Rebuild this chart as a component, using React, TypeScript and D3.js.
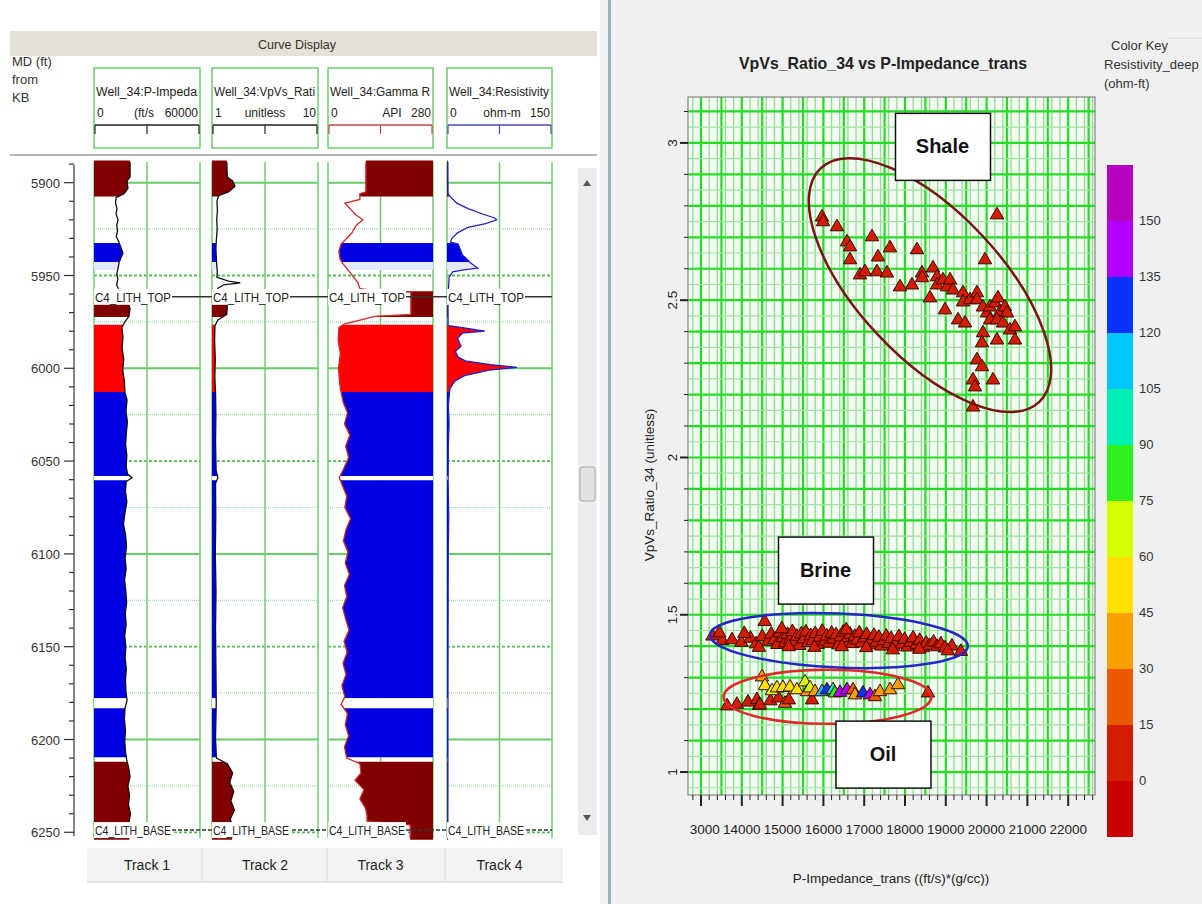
import React from "react";
import * as d3 from "d3";

const FONT = "'Liberation Sans Narrow','Liberation Sans',Arial,sans-serif";

// ---------- well log panel data ----------
const trackNames = ["Track 1", "Track 2", "Track 3", "Track 4"];
const curveNames = ["Well_34:P-Impeda", "Well_34:VpVs_Rati", "Well_34:Gamma R", "Well_34:Resistivity"];
const curveUnits = ["(ft/s", "unitless", "API", "ohm-m"];
const curveMin = [0, 1, 0, 0];
const curveMax = [60000, 10, 280, 150];
const depthLabels = [5900, 5950, 6000, 6050, 6100, 6150, 6200, 6250];

// [depth ft, value]
const pImpedance = [
  [5888, 20400], [5897, 20400], [5899, 18700], [5903, 19200], [5906, 17000], [5908, 12500], [5911, 12200],
  [5914, 13000], [5917, 12500], [5920, 13600], [5923, 12900], [5926, 13300], [5929, 12600], [5932, 14100],
  [5935, 15300], [5938, 16400], [5941, 15000], [5943, 14200], [5946, 13600], [5949, 12900], [5952, 13500],
  [5955, 12800], [5958, 14200], [5961, 13800], [5964, 19300], [5968, 20400], [5972, 19800], [5975, 17500],
  [5978, 15800], [5983, 16400], [5989, 15900], [5995, 16800], [6001, 16300], [6007, 17200], [6013, 17500],
  [6017, 18700], [6023, 18100], [6029, 18900], [6035, 18300], [6041, 17900], [6047, 18600], [6053, 18200],
  [6057, 19000], [6059, 21500], [6061, 18300], [6066, 17800], [6072, 18600], [6078, 17500], [6084, 16700],
  [6090, 17900], [6096, 18400], [6102, 17600], [6108, 18200], [6114, 17300], [6120, 18000], [6126, 18500],
  [6132, 17700], [6138, 18200], [6144, 17400], [6150, 18000], [6156, 17600], [6162, 18300], [6168, 17800],
  [6174, 18100], [6179, 18700], [6183, 17600], [6189, 17200], [6195, 17800], [6201, 17400], [6207, 17900],
  [6211, 18500], [6215, 19600], [6220, 20400], [6225, 19200], [6230, 20100], [6235, 19500], [6240, 20600],
  [6245, 19800], [6250, 20300], [6254, 20000],
];
const vpvsLog = [
  [5888, 2.25], [5897, 2.3], [5899, 2.75], [5902, 2.95], [5905, 2.4], [5907, 1.55], [5910, 1.42], [5915, 1.46],
  [5920, 1.4], [5925, 1.44], [5930, 1.38], [5935, 1.33], [5940, 1.36], [5944, 1.4], [5948, 1.45], [5951, 1.42],
  [5953, 2.4], [5954, 3.4], [5955, 2.0], [5957, 1.48], [5960, 1.45], [5963, 2.2], [5967, 2.3], [5971, 2.25],
  [5974, 1.5], [5977, 1.25], [5985, 1.22], [5995, 1.28], [6005, 1.24], [6013, 1.3], [6025, 1.33], [6040, 1.3],
  [6055, 1.35], [6059, 1.5], [6062, 1.3], [6080, 1.32], [6100, 1.28], [6120, 1.34], [6140, 1.3], [6160, 1.33],
  [6180, 1.36], [6200, 1.3], [6210, 1.38], [6213, 2.3], [6218, 2.75], [6223, 2.5], [6228, 2.85], [6233, 2.6],
  [6238, 2.9], [6243, 2.55], [6248, 2.8], [6254, 2.7],
];
const gammaRay = [
  [5888, 101], [5905, 101], [5906, 85], [5909, 85], [5911, 45], [5914, 59], [5917, 72], [5920, 93], [5923, 75],
  [5927, 64], [5931, 45], [5933, 35], [5937, 29], [5941, 32], [5943, 37], [5947, 53], [5951, 69], [5954, 80],
  [5957, 85], [5958, 117], [5959, 221], [5971, 221], [5972, 125], [5974, 85], [5976, 45], [5978, 29], [5985, 27],
  [5992, 33], [6000, 28], [6008, 31], [6013, 35], [6018, 40], [6024, 52], [6030, 44], [6036, 58], [6042, 47],
  [6048, 55], [6054, 42], [6059, 30], [6063, 38], [6069, 50], [6075, 45], [6081, 60], [6087, 48], [6093, 41],
  [6099, 53], [6105, 46], [6111, 57], [6117, 44], [6123, 50], [6129, 39], [6135, 47], [6141, 56], [6147, 43],
  [6153, 51], [6159, 40], [6165, 48], [6171, 37], [6177, 45], [6181, 35], [6186, 52], [6192, 46], [6198, 55],
  [6204, 44], [6210, 50], [6213, 85], [6218, 88], [6222, 72], [6227, 96], [6232, 85], [6237, 100], [6241, 104],
  [6244, 104], [6246, 219], [6254, 219],
];
const resistivity = [
  [5888, 1.2], [5906, 1.5], [5908, 6], [5911, 14], [5914, 30], [5917, 52], [5919, 68], [5920, 71], [5922, 55],
  [5924, 30], [5927, 15], [5930, 7], [5932, 5], [5933, 16], [5936, 19], [5939, 22], [5941, 28], [5943, 33],
  [5945, 40], [5946, 44], [5947, 24], [5948, 8], [5951, 3], [5958, 2], [5965, 1.5], [5977, 1.5], [5978, 20],
  [5980, 54], [5981, 22], [5984, 15], [5988, 20], [5991, 12], [5994, 16], [5996, 26], [5998, 62], [5999.5, 100],
  [6001, 60], [6004, 25], [6007, 11], [6011, 4], [6020, 2], [6030, 3], [6040, 2], [6060, 1.6], [6080, 2.5],
  [6100, 1.8], [6150, 1.5], [6254, 1.2],
];

// [top ft, base ft, lithology]
const lithZones = [
  [5886, 5907.5, "shale"], [5932.5, 5942.7, "brine"], [5942.7, 5947, "streak"], [5958.5, 5972.4, "shale"],
  [5976.5, 6012.8, "oil"], [6012.8, 6058, "brine"], [6058, 6060.3, "gap"], [6060.3, 6177.8, "brine"],
  [6177.8, 6183.2, "gap"], [6183.2, 6209.6, "brine"], [6212, 6256, "shale"],
];
const lithColors = { shale: "#800000", brine: "#0000e0", oil: "#ff0000", gap: "#ffffff", streak: "#e4eaff" };
const markerNames = ["C4_LITH_TOP", "C4_LITH_BASE"];
const markerDepths = [5961.5, 6248.8];

// ---------- crossplot data ----------
// [P-Impedance, VpVs]
const shalePoints = [
  [15965, 2.764], [15990, 2.749], [16333, 2.733], [16578, 2.685], [16652, 2.669], [16652, 2.628], [17191, 2.701],
  [17338, 2.637], [17632, 2.666], [18294, 2.66], [16897, 2.58], [17019, 2.59], [17313, 2.59], [17558, 2.586],
  [17877, 2.542], [18171, 2.548], [18416, 2.586], [18416, 2.571], [18686, 2.602], [18784, 2.574], [18612, 2.507],
  [18784, 2.548], [18931, 2.564], [19029, 2.542], [19103, 2.564], [19176, 2.532], [18980, 2.469], [19421, 2.523],
  [19421, 2.494], [19593, 2.501], [19764, 2.523], [19764, 2.501], [19911, 2.478], [20009, 2.459], [20083, 2.478],
  [20206, 2.491], [20279, 2.507], [20328, 2.462], [20451, 2.478], [20500, 2.459], [20083, 2.437], [20255, 2.437],
  [20402, 2.427], [20573, 2.405], [20696, 2.415], [20696, 2.373], [20255, 2.373], [19911, 2.396], [19887, 2.364],
  [19299, 2.437], [19470, 2.427], [19764, 2.31], [19887, 2.288], [19666, 2.246], [19715, 2.224], [20157, 2.246],
  [19666, 2.16], [20255, 2.771], [19960, 2.628],
];
const brinePoints = [
  [13280, 1.432], [13520, 1.418], [13760, 1.42], [13990, 1.412], [14210, 1.425], [14350, 1.407], [14500, 1.43],
  [14560, 1.478], [14640, 1.415], [14720, 1.438], [14800, 1.421], [14870, 1.405], [14930, 1.442], [15010, 1.426],
  [15060, 1.41], [15120, 1.437], [15180, 1.42], [15240, 1.446], [15300, 1.414], [15350, 1.431], [15410, 1.402],
  [15460, 1.439], [15520, 1.423], [15570, 1.445], [15630, 1.411], [15690, 1.433], [15740, 1.418], [15800, 1.44],
  [15860, 1.405], [15910, 1.428], [15970, 1.447], [16030, 1.416], [16080, 1.432], [16140, 1.409], [16200, 1.441],
  [16250, 1.422], [16310, 1.436], [16370, 1.404], [16420, 1.429], [16480, 1.444], [16540, 1.413], [16600, 1.427],
  [16650, 1.438], [16710, 1.408], [16770, 1.431], [16830, 1.419], [16880, 1.442], [16940, 1.41], [17000, 1.426],
  [17060, 1.437], [17120, 1.404], [17180, 1.421], [17240, 1.434], [17300, 1.412], [17360, 1.428], [17420, 1.4],
  [17480, 1.417], [17540, 1.432], [17600, 1.408], [17660, 1.424], [17720, 1.399], [17790, 1.415], [17850, 1.43],
  [17920, 1.406], [17990, 1.421], [18060, 1.397], [18130, 1.412], [18200, 1.426], [18280, 1.404], [18360, 1.418],
  [18440, 1.395], [18520, 1.409], [18600, 1.402], [18700, 1.413], [18790, 1.398], [18880, 1.407], [18980, 1.394],
  [19150, 1.4], [19370, 1.383], [14060, 1.44], [14420, 1.396], [15150, 1.398], [15780, 1.396], [16450, 1.398],
  [17050, 1.395], [17700, 1.388], [18350, 1.39], [19050, 1.385], [13450, 1.442], [14980, 1.455], [16560, 1.452],
];
const shaleBrineRes = 4;
// [P-Impedance, VpVs, Resistivity_deep]
const oilPoints = [
  [13640, 1.21, 8], [13880, 1.215, 5], [14150, 1.222, 10], [14370, 1.23, 6], [14420, 1.212, 12], [14446, 1.213, 3],
  [14700, 1.226, 4], [14900, 1.235, 9], [15058, 1.218, 18], [15150, 1.229, 7], [15720, 1.229, 12], [18563, 1.251, 5],
  [14495, 1.302, 32], [14569, 1.274, 52], [14740, 1.258, 65], [14862, 1.267, 55], [15008, 1.268, 50],
  [15181, 1.27, 58], [15352, 1.261, 47], [15549, 1.286, 62], [15598, 1.255, 40], [15671, 1.267, 68],
  [15794, 1.255, 38], [15965, 1.255, 112], [16088, 1.261, 125], [16235, 1.261, 100], [16284, 1.251, 82],
  [16407, 1.253, 140], [16578, 1.261, 145], [16725, 1.261, 20], [16774, 1.245, 30], [16970, 1.251, 128],
  [17142, 1.245, 138], [17264, 1.239, 25], [17387, 1.255, 33], [17632, 1.261, 37], [17828, 1.277, 40],
];
// annotation ellipses: centre in data units
const ellipseNames = ["Shale", "Brine", "Oil"];
const ellipseCentres = [[18612, 2.548], [16382, 1.418], [16100, 1.239]];
const labelCentres = [[18919, 2.989], [16051, 1.642], [17460, 1.057]];

const xTicks = [13000, 14000, 15000, 16000, 17000, 18000, 19000, 20000, 21000, 22000];
const yTicks = [1, 1.5, 2, 2.5, 3];
const keyBreaks = [0, 15, 30, 45, 60, 75, 90, 105, 120, 135, 150];
const keyColors = [
  "#c80000", "#d41c00", "#ea5800", "#f7a000", "#ffe100", "#d6ff00",
  "#2ef01c", "#00f0b4", "#00c6ff", "#0a32ff", "#b000ff", "#b800c0",
];

export default function App() {
  // ---------- well panel layout ----------
  const dy = d3.scaleLinear().domain([5900, 6250]).range([182.7, 832.3]);
  const TOP = 162, BOT = 838;
  const trackX = [[94, 200], [212, 318], [328, 433], [447, 552]];
  const curves = [pImpedance, vpvsLog, gammaRay, resistivity];
  const lineColors = ["#111", "#111", "#d42828", "#2020c8"];
  const scaleColors = ["#222", "#222", "#c04848", "#4848b8"];
  const fillRight = [false, false, true, false];
  const unitX = [144, 265, 392, 502];
  const depthGrid = d3.range(5900, 6251, 25);
  const depthMinor = d3.range(5890, 6251, 10);

  // ---------- crossplot layout ----------
  const xS = d3.scaleLinear().domain([12681, 22657]).range([688, 1095]);
  const yS = d3.scaleLinear().domain([0.927, 3.146]).range([795, 97]);
  const keyS = d3.scaleLinear().domain([-15, 165]).range([837, 165]);
  const resColor = d3.scaleThreshold<number, string>().domain(keyBreaks).range(keyColors);
  const tri = d3.symbol().type(d3.symbolTriangle).size(78)();
  const xGrid = d3.range(12800, 22657, 100).filter((v) => v % 200 === 0 || v % 500 === 0);
  const yGrid = d3.range(19, 63).map((k) => k * 0.05);
  const xMinor = d3.range(12800, 22657, 200);
  const yMinor = d3.range(10, 32).map((k) => k / 10);
  const ellipseStyle = [
    { rx: 160, ry: 72, rot: 47, stroke: "#7a1414" },
    { rx: 129, ry: 27, rot: 2.5, stroke: "#2626c8" },
    { rx: 104, ry: 27, rot: 0, stroke: "#e02a2a" },
  ];

  return (
    <svg width={1202} height={904} style={{ position: "absolute", left: 0, top: 0 }} fontFamily={FONT}>
      <defs>
        <clipPath id="body"><rect x={0} y={TOP} width={600} height={BOT - TOP} /></clipPath>
        {lithZones.map((z, i) => (
          <clipPath id={`zone${i}`} key={i}>
            <rect x={0} y={dy(z[0] as number)} width={600} height={dy(z[1] as number) - dy(z[0] as number)} />
          </clipPath>
        ))}
        <clipPath id="xlab"><rect x={690} y={805} width={420} height={40} /></clipPath>
        <clipPath id="plot"><rect x={688} y={97} width={407} height={698} /></clipPath>
      </defs>

      <rect width={1202} height={904} fill="#ffffff" />

      {/* ===== left panel ===== */}
      <rect x={10} y={31} width={587} height={25} fill="#e4e2d4" />
      <text x={297} y={49} textAnchor="middle" fontSize={12.5} fill="#333">Curve Display</text>
      <text x={12} y={66} fontSize={13} fill="#333">MD (ft)</text>
      <text x={12} y={84} fontSize={13} fill="#333">from</text>
      <text x={12} y={102} fontSize={13} fill="#333">KB</text>

      {trackX.map(([L, R], i) => {
        const mid = (L + R) / 2;
        return (
          <g key={`h${i}`}>
            <rect x={L} y={68} width={R - L} height={80} fill="#fff" stroke="#70cc70" strokeWidth={1.5} />
            <text x={L + 2} y={96} fontSize={12.5} fill="#222" textLength={R - L - 5} lengthAdjust="spacingAndGlyphs">{curveNames[i]}</text>
            <text x={L + 3} y={117} fontSize={12} fill="#222">{curveMin[i]}</text>
            <text x={unitX[i]} y={117} fontSize={12} textAnchor="middle" fill="#222">{curveUnits[i]}</text>
            <text x={R - 2} y={117} fontSize={12} textAnchor="end" fill="#222">{curveMax[i]}</text>
            <line x1={L + 1} x2={R - 1} y1={125} y2={125} stroke={scaleColors[i]} strokeWidth={1.5} />
            {[L + 1, mid, R - 1].map((x, k) => (
              <line key={k} x1={x} x2={x} y1={125} y2={134} stroke={scaleColors[i]} strokeWidth={1.2} />
            ))}
          </g>
        );
      })}
      <line x1={10} x2={597} y1={155} y2={155} stroke="#b4b4b4" strokeWidth={2} />

      {/* depth axis */}
      <line x1={74} x2={74} y1={165} y2={836} stroke="#333" strokeWidth={1.2} />
      {depthMinor.map((d) => (
        <line key={d} x1={d % 50 === 0 ? 64 : 69} x2={74} y1={dy(d)} y2={dy(d)} stroke="#333" strokeWidth={1.2} />
      ))}
      {depthLabels.map((d) => (
        <text key={d} x={60} y={dy(d) + 5} textAnchor="end" fontSize={13} fill="#333">{d}</text>
      ))}

      {/* tracks */}
      {curves.map((data, i) => {
        const [L, R] = trackX[i];
        const mid = (L + R) / 2;
        const xs = d3.scaleLinear().domain([curveMin[i], curveMax[i]]).range([L, R]);
        const area = d3.area<number[]>().y((d) => dy(d[0]));
        if (fillRight[i]) area.x0((d) => xs(d[1])).x1(R);
        else area.x0(L).x1((d) => xs(d[1]));
        const line = d3.line<number[]>().x((d) => xs(d[1])).y((d) => dy(d[0]));
        return (
          <g key={`t${i}`}>
            {depthGrid.map((d) => {
              const solid = d % 100 === 0;
              const dashed = !solid && d % 50 === 0;
              return (
                <line key={d} x1={L} x2={R} y1={dy(d)} y2={dy(d)}
                  stroke={solid ? "#66cc66" : dashed ? "#55bb55" : "#a8d8a8"}
                  strokeWidth={solid ? 2 : dashed ? 1.8 : 1.2}
                  strokeDasharray={solid ? undefined : dashed ? "3 2" : "1 1"} />
              );
            })}
            {[L, mid, R].map((x, k) => (
              <line key={k} x1={x} x2={x} y1={TOP} y2={BOT} stroke="#70cc70" strokeWidth={1.5} />
            ))}
            {lithZones.map((z, j) => (
              <path key={j} d={area(data) || ""} fill={lithColors[z[2] as string]} clipPath={`url(#zone${j})`} />
            ))}
            <path d={line(data) || ""} fill="none" stroke={lineColors[i]} strokeWidth={1.3} clipPath="url(#body)" />
          </g>
        );
      })}

      {/* formation markers */}
      {markerNames.map((name, k) => {
        const y = dy(markerDepths[k]);
        return (
          <g key={name}>
            <line x1={94} x2={552} y1={y} y2={y} stroke="#333" strokeWidth={1.5} strokeDasharray={k === 1 ? "4 2" : undefined} />
            {trackX.map(([L], i) => (
              <g key={i}>
                <rect x={L} y={y - 8} width={78} height={16} fill="#fff" />
                <text x={L + 1} y={y + 5} fontSize={13.5} fill="#222" textLength={76} lengthAdjust="spacingAndGlyphs">{name}</text>
              </g>
            ))}
          </g>
        );
      })}

      {/* footer */}
      <rect x={87} y={848} width={476} height={34} fill="#f3f3f3" />
      <line x1={87} x2={563} y1={882} y2={882} stroke="#d0d0d0" />
      {[202, 327, 445].map((x) => (
        <line key={x} x1={x} x2={x} y1={848} y2={882} stroke="#dadada" />
      ))}
      {trackX.map(([L, R], i) => (
        <text key={i} x={(L + R) / 2} y={870} textAnchor="middle" fontSize={14} fill="#222">{trackNames[i]}</text>
      ))}

      {/* scrollbar */}
      <rect x={578} y={168} width={19} height={667} fill="#ececec" />
      <path d="M583,186 L587,180 L591,186 Z" fill="#555" />
      <path d="M583,815 L587,821 L591,815 Z" fill="#555" />
      <rect x={580} y={467} width={15} height={34} rx={2} fill="#e2e2e2" stroke="#a8a8a8" />

      {/* divider */}
      <rect x={600} y={0} width={15} height={904} fill="#eef2f7" />
      <rect x={608} y={0} width={3} height={904} fill="#9fb0c6" />

      {/* ===== right panel ===== */}
      <rect x={615} y={0} width={587} height={904} fill="#f0f0f0" />
      <text x={883} y={69} textAnchor="middle" fontSize={17} fontWeight="bold" fill="#222"
        textLength={288} lengthAdjust="spacingAndGlyphs">VpVs_Ratio_34 vs P-Impedance_trans</text>

      {/* plot background and grid */}
      <rect x={688} y={97} width={407} height={698} fill="#f3fbf3" />
      <g clipPath="url(#plot)">
        {xGrid.map((v) => {
          const major = v % 500 === 0;
          return <line key={v} x1={xS(v)} x2={xS(v)} y1={97} y2={795} stroke={major ? "#22dd22" : "#8fe08f"} strokeWidth={major ? 2.2 : 1.3} />;
        })}
        {yGrid.map((v, k) => {
          const level = Math.round(v * 100);
          const major = level % 10 === 0;
          return <line key={k} x1={688} x2={1095} y1={yS(v)} y2={yS(v)} stroke={major ? "#22dd22" : "#9ee49e"} strokeWidth={major ? 2.2 : 1.2} />;
        })}
      </g>
      <rect x={688} y={97} width={407} height={698} fill="none" stroke="#707070" strokeWidth={1} />

      {/* axes */}
      {xMinor.map((v) => (
        <line key={v} x1={xS(v)} x2={xS(v)} y1={795} y2={v % 1000 === 0 ? 806 : 800} stroke="#222" strokeWidth={v % 1000 === 0 ? 2 : 1} />
      ))}
      <g clipPath="url(#xlab)">
        {xTicks.map((v) => (
          <text key={v} x={xS(v)} y={834} textAnchor="middle" fontSize={13.5} fill="#222">{v}</text>
        ))}
      </g>
      {yMinor.map((v, k) => {
        const major = Math.round(v * 10) % 5 === 0;
        return <line key={k} x1={major ? 680 : 684} x2={688} y1={yS(v)} y2={yS(v)} stroke="#222" strokeWidth={major ? 2 : 1} />;
      })}
      {yTicks.map((v) => (
        <text key={v} transform={`translate(677,${yS(v)}) rotate(-90)`} textAnchor="middle" fontSize={13.5} fill="#222">{v}</text>
      ))}
      <text x={891} y={883} textAnchor="middle" fontSize={13.5} fill="#222">P-Impedance_trans ((ft/s)*(g/cc))</text>
      <text transform="translate(654,485) rotate(-90)" textAnchor="middle" fontSize={13.5} fill="#222">VpVs_Ratio_34 (unitless)</text>

      {/* points */}
      <g clipPath="url(#plot)" stroke="#3a0800" strokeWidth={1}>
        {brinePoints.map((p, k) => (
          <path key={`b${k}`} d={tri || ""} transform={`translate(${xS(p[0])},${yS(p[1])})`} fill={resColor(shaleBrineRes)} />
        ))}
        {oilPoints.map((p, k) => (
          <path key={`o${k}`} d={tri || ""} transform={`translate(${xS(p[0])},${yS(p[1])})`} fill={resColor(p[2])} />
        ))}
        {shalePoints.map((p, k) => (
          <path key={`s${k}`} d={tri || ""} transform={`translate(${xS(p[0])},${yS(p[1])})`} fill={resColor(shaleBrineRes)} />
        ))}
      </g>

      {/* zone ellipses */}
      {ellipseCentres.map((c, k) => {
        const cx = xS(c[0]), cy = yS(c[1]);
        const st = ellipseStyle[k];
        return (
          <ellipse key={ellipseNames[k]} cx={cx} cy={cy} rx={st.rx} ry={st.ry} fill="none" stroke={st.stroke}
            strokeWidth={2.5} transform={`rotate(${st.rot} ${cx} ${cy})`} />
        );
      })}
      {labelCentres.map((c, k) => {
        const cx = xS(c[0]), cy = yS(c[1]);
        return (
          <g key={`l${k}`}>
            <rect x={cx - 47} y={cy - 33} width={95} height={67} fill="#fff" stroke="#111" strokeWidth={1.5} />
            <text x={cx} y={cy + 7} textAnchor="middle" fontSize={20} fontWeight="bold" fill="#111">{ellipseNames[k]}</text>
          </g>
        );
      })}

      {/* color key */}
      <text x={1111} y={50} fontSize={13} fill="#333">Color Key</text>
      <line x1={1168} x2={1202} y1={38} y2={38} stroke="#d8d8d8" />
      <text x={1104} y={69} fontSize={13} fill="#333">Resistivity_deep</text>
      <text x={1104} y={88} fontSize={13} fill="#333">(ohm-ft)</text>
      {keyColors.map((c, k) => (
        <rect key={c} x={1107} y={keyS(-15 + 15 * (k + 1))} width={26} height={keyS(-15 + 15 * k) - keyS(-15 + 15 * (k + 1))} fill={c} />
      ))}
      {keyBreaks.map((v) => (
        <text key={v} x={1139} y={keyS(v) + 4} fontSize={13} fill="#333">{v}</text>
      ))}
    </svg>
  );
}
